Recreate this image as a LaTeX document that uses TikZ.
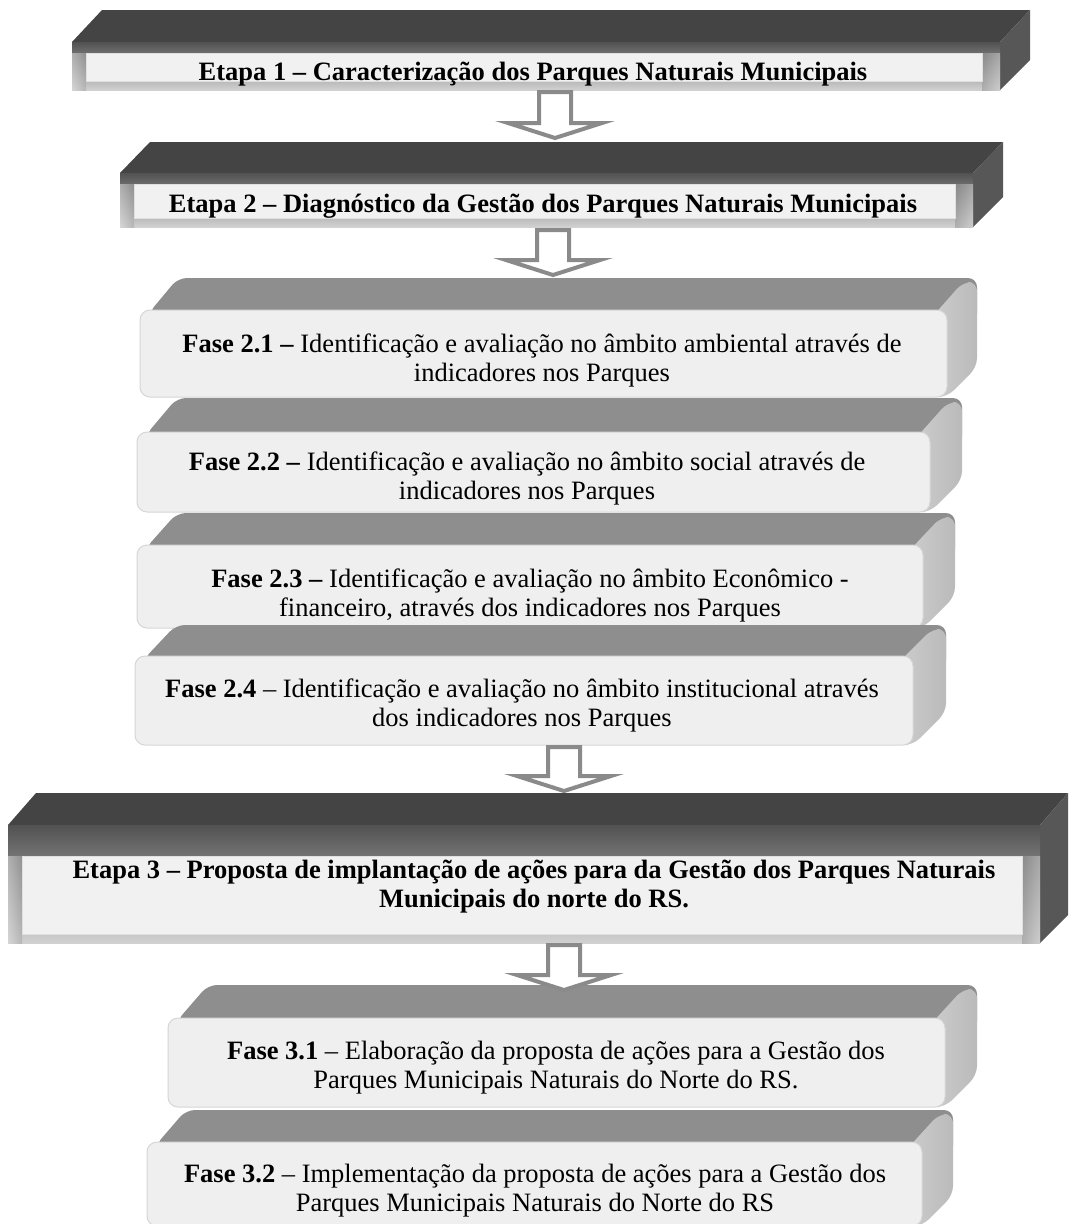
\documentclass[tikz,border=0pt]{standalone}
\usepackage{fontspec}
\setmainfont{Liberation Serif}
\usetikzlibrary{calc}

\definecolor{etapatop}{HTML}{444444}
\definecolor{etapaside}{HTML}{575757}
\definecolor{etapainner}{HTML}{F1F1F1}
\definecolor{fasetopc}{HTML}{8E8E8E}
\definecolor{fasefrontc}{HTML}{EFEFEF}
\definecolor{faseedge}{HTML}{D6D6D6}
\definecolor{arrowgray}{HTML}{8A8A8A}

\tikzset{
  etapatext/.style={font=\fontsize{26.5pt}{29pt}\selectfont\bfseries, align=center, inner sep=0pt},
  fasetext/.style={font=\fontsize{26.5pt}{29pt}\selectfont, align=center, inner sep=0pt},
  etapafront/.style={top color=black!68, middle color=black!22, bottom color=black!18},
  etapainnerbox/.style={fill=etapainner, draw=black!12, line width=0.8pt},
  fasetop/.style={fill=fasetopc},
  faseside/.style={left color=black!20, right color=black!27},
  fasefront/.style={fill=fasefrontc, draw=faseedge, line width=1pt, rounded corners=10pt},
  blockarr/.style={draw=arrowgray, fill=white, line width=4pt, line join=miter},
}

% 3D slab with a light inset panel
% #1 left, #2 right, #3 top of roof, #4 top of front, #5 bottom of front, #6 depth, #7 inset top offset
\newcommand\etapaslab[7]{%
  \fill[etapatop] (#1,#4) -- (#1+#6,#3) -- (#2+#6,#3) -- (#2,#4) -- cycle;
  \fill[etapaside] (#2,#4) -- (#2+#6,#3) -- (#2+#6,#5-#6) -- (#2,#5) -- cycle;
  \path[etapafront] (#1,#4) rectangle (#2,#5);
  \path[left color=black!15, right color=black!35, opacity=0.6] (#1,#4+#7) rectangle (#1+14,#5);
  \path[left color=black!40, right color=black!20, opacity=0.6] (#2-18,#4+#7) rectangle (#2,#5);
  \path[etapainnerbox] (#1+14,#4+#7) rectangle (#2-18,#5-9);
}

% rounded 3D card: #1 left, #2 right, #3 top of roof, #4 top of front, #5 bottom of front, #6 depth
\newcommand\fasecard[6]{%
  \fill[fasetop, rounded corners=9pt] (#1+8,#4+4) -- (#1+8+#6,#3) -- (#2+#6,#3) -- (#2+#6,#4+12) -- (#2,#4+12) -- cycle;
  \path[faseside, rounded corners=9pt] (#2-14,#4+6) -- (#2-14+#6,#3+4) -- (#2+#6,#3+4) -- (#2+#6,#5-#6) -- (#2,#5) -- (#2-14,#5) -- cycle;
  \path[fasefront] (#1,#4) rectangle (#2,#5);
}

% hollow block arrow from a start point down to a tip point
\newcommand\blockarrow[2]{%
  \draw[blockarr] let \p1=(#1), \p2=(#2) in
    (\x1-16pt,\y1) -- (\x1-16pt,\y2+15pt) -- (\x1-47pt,\y2+15pt) -- (\x2,\y2)
    -- (\x1+47pt,\y2+15pt) -- (\x1+16pt,\y2+15pt) -- (\x1+16pt,\y1) -- cycle;
}

\begin{document}
\begin{tikzpicture}[x=1pt,y=-1pt]
\fill[white] (0,0) rectangle (1084,1224);
\useasboundingbox (0,0) rectangle (1084,1224);

% Etapa 1
\etapaslab{72}{1000}{10}{42}{90}{30}{11}
\node[etapatext, anchor=base] (etapa1) at (533,80) {Etapa 1 – Caracterização dos Parques Naturais Municipais};

% Etapa 2
\etapaslab{120}{973}{142}{173}{227}{30}{11}
\node[etapatext, anchor=base] (etapa2) at (543,212) {Etapa 2 – Diagnóstico da Gestão dos Parques Naturais Municipais};

% Fase 2.1 - 2.4 (node base = baseline of the last line)
\fasecard{140}{947}{278}{310}{397}{30}
\node[fasetext, anchor=base] (fase21) at (542,381) {\textbf{Fase 2.1 –} Identificação e avaliação no âmbito ambiental através de\\indicadores nos Parques};

\fasecard{137}{930}{398}{432}{512}{32}
\node[fasetext, anchor=base] (fase22) at (527,499) {\textbf{Fase 2.2 –} Identificação e avaliação no âmbito social através de\\indicadores nos Parques};

\fasecard{137}{923}{513}{545}{628}{32}
\node[fasetext, anchor=base] (fase23) at (530,616) {\textbf{Fase 2.3 –} Identificação e avaliação no âmbito Econômico -\\financeiro, através dos indicadores nos Parques};

\fasecard{135}{913}{625}{656}{745}{33}
\node[fasetext, anchor=base] (fase24) at (522,726) {\textbf{Fase 2.4} – Identificação e avaliação no âmbito institucional através\\dos indicadores nos Parques};

% Etapa 3
\etapaslab{8}{1040}{793}{825}{943}{28}{31}
\node[etapatext, anchor=base] (etapa3) at (534,907) {Etapa 3 – Proposta de implantação de ações para da Gestão dos Parques Naturais\\Municipais do norte do RS.};

% Fase 3.1 - 3.2
\fasecard{168}{945}{985}{1018}{1107}{32}
\node[fasetext, anchor=base] (fase31) at (556,1088) {\textbf{Fase 3.1} – Elaboração da proposta de ações para a Gestão dos\\Parques Municipais Naturais do Norte do RS.};

\fasecard{147}{922}{1110}{1142}{1226}{31}
\node[fasetext, anchor=base] (fase32) at (535,1211) {\textbf{Fase 3.2} – Implementação da proposta de ações para a Gestão dos\\Parques Municipais Naturais do Norte do RS};

% connectors between the stages
\coordinate (a1s) at (555,92);  \coordinate (a1t) at (555,138);
\coordinate (a2s) at (553,230); \coordinate (a2t) at (553,275);
\coordinate (a3s) at (564,747); \coordinate (a3t) at (564,791);
\coordinate (a4s) at (564,945); \coordinate (a4t) at (564,990);
\blockarrow{a1s}{a1t}
\blockarrow{a2s}{a2t}
\blockarrow{a3s}{a3t}
\blockarrow{a4s}{a4t}
\end{tikzpicture}
\end{document}
